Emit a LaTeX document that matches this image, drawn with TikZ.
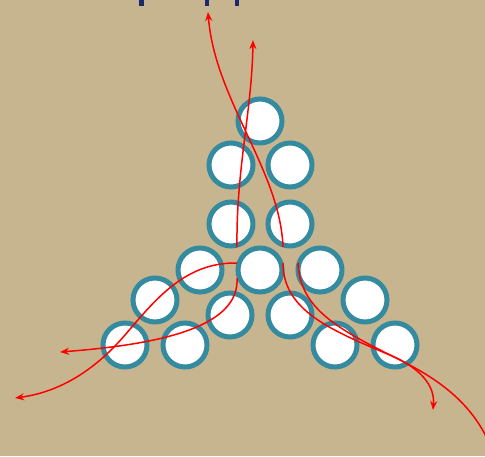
\documentclass[tikz,border=0pt]{standalone}
\usetikzlibrary{arrows.meta}
\definecolor{bgtan}{RGB}{199,181,143}
\definecolor{ring}{RGB}{52,138,158}
\definecolor{navy}{RGB}{28,40,110}
\tikzset{
  ball/.style={circle,draw=ring,line width=5pt,fill=white,minimum size=44pt,inner sep=0pt},
  flow/.style={draw=red,line width=1.5pt},
  flowarrow/.style={flow,-{Stealth[length=9pt,width=7pt]}}
}
\begin{document}
\begin{tikzpicture}[x=1pt,y=-1pt]
\useasboundingbox (0,0) rectangle (485,456);
\clip (0,0) rectangle (485,456);
\fill[bgtan] (0,0) rectangle (485,456);
% cut-off title marks
\fill[navy] (139,0) rectangle (144,6);
\fill[navy] (205,0) rectangle (209,6);
\fill[navy] (235,0) rectangle (239,6);
% balls
\node[ball] (b1) at (260,121) {};
\node[ball] (b2) at (231,165) {};
\node[ball] (b3) at (290,165) {};
\node[ball] (b4) at (231,224) {};
\node[ball] (b5) at (290,224) {};
\node[ball] (b6) at (200,270) {};
\node[ball] (b7) at (260,270) {};
\node[ball] (b8) at (320,270) {};
\node[ball] (b9) at (155,300) {};
\node[ball] (b10) at (230,315) {};
\node[ball] (b11) at (290,315) {};
\node[ball] (b12) at (365,300) {};
\node[ball] (b13) at (125,345) {};
\node[ball] (b14) at (185,345) {};
\node[ball] (b15) at (335,345) {};
\node[ball] (b16) at (395,345) {};
% flow coordinates
\coordinate (a0) at (237,247);
\coordinate (a1) at (253,40);
\coordinate (bb0) at (283,247);
\coordinate (bb1) at (208,12);
\coordinate (c0) at (237,263);
\coordinate (c1) at (15,398);
\coordinate (d0) at (237,278);
\coordinate (d1) at (60,352);
\coordinate (e0) at (283,263);
\coordinate (e1) at (433,410);
\coordinate (f0) at (298,263);
\coordinate (f1) at (492,450);
% flows
\draw[flowarrow] (a0) .. controls (236,170) and (252,110) .. (a1);
\draw[flowarrow] (bb0) .. controls (280,170) and (215,100) .. (bb1);
\draw[flowarrow] (c0) .. controls (185,262) and (155,300) .. (125,335) .. controls (95,370) and (60,392) .. (c1);
\draw[flowarrow] (d0) .. controls (240,330) and (150,345) .. (d1);
\draw[flowarrow] (e0) .. controls (283,310) and (330,330) .. (390,355) .. controls (420,368) and (435,385) .. (e1);
\draw[flow] (f0) .. controls (300,310) and (340,330) .. (400,360) .. controls (440,380) and (475,405) .. (f1);
\end{tikzpicture}
\end{document}
